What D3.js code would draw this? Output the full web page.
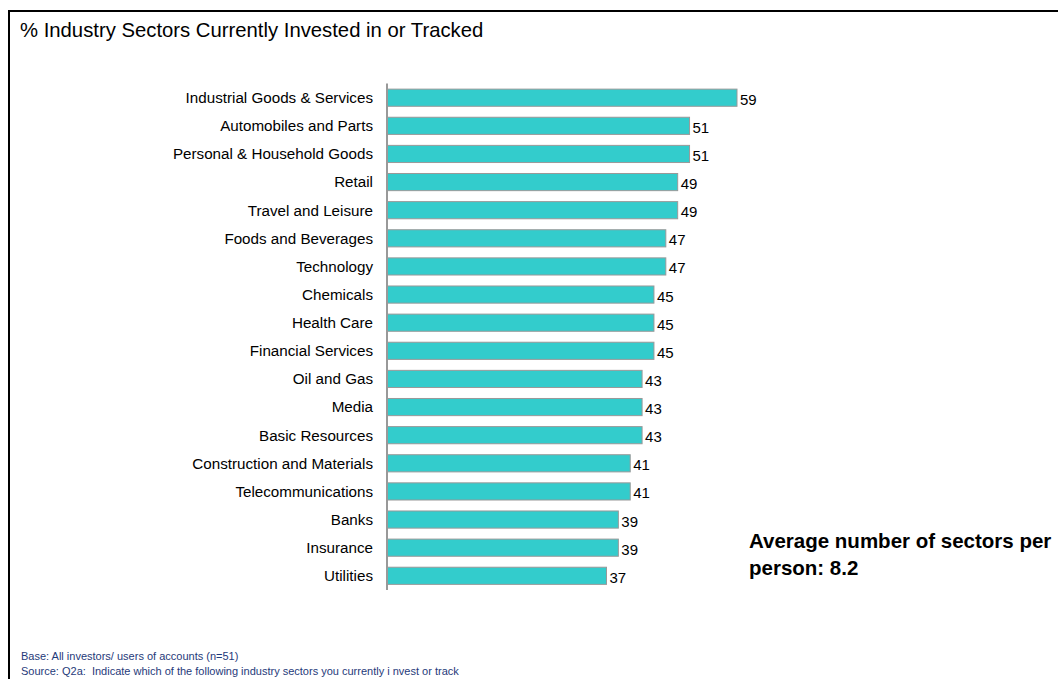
<!DOCTYPE html>
<html><head><meta charset="utf-8">
<script src="https://cdn.jsdelivr.net/npm/d3@7"></script>
<style>body{margin:0;background:#fff}svg{display:block;font-family:"Liberation Sans",Arial,sans-serif}</style>
</head><body>
<script>
const categories = ["Industrial Goods & Services","Automobiles and Parts","Personal & Household Goods","Retail","Travel and Leisure","Foods and Beverages","Technology","Chemicals","Health Care","Financial Services","Oil and Gas","Media","Basic Resources","Construction and Materials","Telecommunications","Banks","Insurance","Utilities"];
const values = [59,51,51,49,49,47,47,45,45,45,43,43,43,41,41,39,39,37];
const title = "% Industry Sectors Currently Invested in or Tracked";
const noteLines = ["Average number of sectors per","person: 8.2"];
const footLines = ["Base: All investors/ users of accounts (n=51)","Source: Q2a:  Indicate which of the following industry sectors you currently i nvest or track"];

const W=1058,H=679;
const svg=d3.select("body").append("svg").attr("width",W).attr("height",H);
// frame
svg.append("path").attr("d",`M9,${H} L9,11 L${W},11`).attr("fill","none").attr("stroke","#000").attr("stroke-width",2);
svg.append("text").attr("x",20).attr("y",37).attr("font-size",20.3).attr("fill","#000").text(title);

const x=d3.scaleLinear().domain([0,59]).range([387,737]);
const y=d3.scaleBand().domain(categories).range([83.5,590]).paddingInner(0.39).paddingOuter(0.2);

const g=svg.append("g");
g.selectAll("rect").data(categories).join("rect")
  .attr("x",x(0)).attr("y",d=>y(d)).attr("width",(d,i)=>x(values[i])-x(0)).attr("height",y.bandwidth())
  .attr("fill","#33CCCC").attr("stroke","#999").attr("stroke-width",1);
g.selectAll("text.v").data(categories).join("text").attr("class","v")
  .attr("x",(d,i)=>x(values[i])+3).attr("y",d=>y(d)+y.bandwidth()/2+7).attr("font-size",15).text((d,i)=>values[i]);
const ax=svg.append("g").attr("transform",`translate(${x(0)},0)`).call(d3.axisLeft(y).tickSize(0).tickPadding(14));
ax.select(".domain").attr("stroke","#999").attr("stroke-width",2).attr("d","M0,83.5V590");
ax.selectAll("text").attr("font-size",15.2).attr("fill","#000").attr("font-family","Liberation Sans, Arial, sans-serif").attr("dy","0.35em");

svg.append("g").selectAll("text").data(noteLines).join("text")
  .attr("x",749).attr("y",(d,i)=>548+i*27).attr("font-size",20.5).attr("font-weight","bold").text(d=>d);
svg.append("g").selectAll("text").data(footLines).join("text")
  .attr("x",21).attr("y",(d,i)=>660+i*15).attr("font-size",11).attr("fill","#1F3A7A")
  .style("white-space","pre").text(d=>d);
</script>
</body></html>
